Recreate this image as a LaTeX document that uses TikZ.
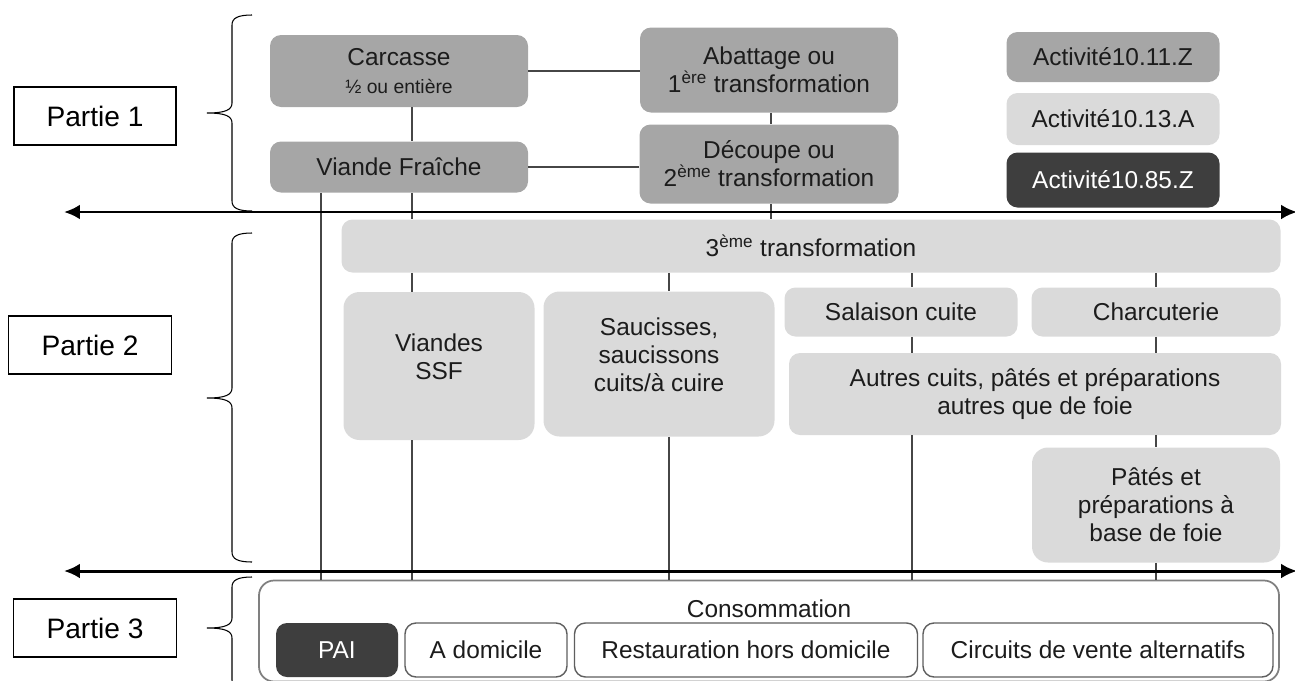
\documentclass[tikz,border=0pt]{standalone}
\usepackage{fontspec}
\setmainfont{Liberation Sans}
\usetikzlibrary{arrows.meta}

\begin{document}
\begin{tikzpicture}[x=0.02cm,y=-0.02cm]
\newcommand{\pxl}{0.02cm}
\newcommand{\boxfont}{\fontsize{13.9}{16}\selectfont}
\newcommand{\partfont}{\fontsize{16}{19}\selectfont}
\newcommand{\halffont}{\fontsize{11}{13}\selectfont}
\newcommand{\partbrace}[3]{\draw[bracket] (252,#1) .. controls (238,#1) and (232,#1+3) .. (232,#1+10) -- (232,#2-10) .. controls (232,#2-3) and (225,#2) .. (207,#2) .. controls (225,#2) and (232,#2+3) .. (232,#2+10) -- (232,#3-10) .. controls (232,#3-3) and (238,#3) .. (252,#3);}
\definecolor{fillmid}{RGB}{166,166,166}
\definecolor{filllight}{RGB}{218,218,218}
\definecolor{filldark}{RGB}{62,62,62}
\definecolor{textgray}{RGB}{28,28,28}
\definecolor{linegray}{RGB}{70,70,70}
\definecolor{bordergray}{RGB}{95,95,95}
\tikzset{dims/.style 2 args={minimum width=#1*\pxl,minimum height=#2*\pxl}}
\tikzstyle{block}=[rounded corners=0.22cm,inner sep=0pt,align=center,text=textgray,font=\boxfont]
\tikzstyle{midblock}=[block,fill=fillmid]
\tikzstyle{lightblock}=[block,fill=filllight]
\tikzstyle{darkblock}=[block,fill=filldark,text=white]
\tikzstyle{tall}=[rounded corners=0.32cm]
\tikzstyle{outlet}=[block,draw=bordergray,line width=0.8pt,fill=white]
\tikzstyle{part}=[draw,line width=0.6pt,inner sep=0pt,font=\partfont]
\tikzstyle{link}=[draw=linegray,line width=0.7pt]
\tikzstyle{axis}=[line width=1.7pt,{Latex[length=0.32cm,width=0.3cm]}-{Latex[length=0.32cm,width=0.3cm]}]
\tikzstyle{bracket}=[line width=0.6pt]
\clip (0,0) rectangle (1295,680);
% parties
\node[part,dims={162}{58}] (partone) at (95,116) {Partie 1};
\node[part,dims={163}{58}] (parttwo) at (90,345) {Partie 2};
\node[part,dims={163}{58}] (partthree) at (95,628) {Partie 3};
\partbrace{15}{113}{211}
\partbrace{233}{398}{562}
\partbrace{577}{628}{690}
% partie 1
\node[midblock,dims={258}{72}] (carcasse) at (399,71) {Carcasse\\{\halffont ½ ou entière}};
\node[midblock,dims={258}{85}] (abattage) at (769,70) {Abattage ou\\1\textsuperscript{ère} transformation};
\node[midblock,dims={258}{51}] (viande) at (399,167) {Viande Fraîche};
\node[midblock,dims={259}{79}] (decoupe) at (769,164) {Découpe ou\\2\textsuperscript{ème} transformation};
\node[midblock,dims={213}{50}] (actone) at (1113,57) {Activité10.11.Z};
\node[lightblock,dims={213}{52}] (acttwo) at (1113,119) {Activité10.13.A};
\node[darkblock,dims={213}{55}] (actthree) at (1113,180) {Activité10.85.Z};
% partie 2
\node[lightblock,dims={939}{53}] (third) at (811,246) {3\textsuperscript{ème} transformation};
\node[lightblock,tall,dims={191}{148}] (ssf) at (439,366) {Viandes\\SSF\\[-5pt]\mbox{}};
\node[lightblock,tall,dims={231}{145}] (saucisses) at (659,364) {Saucisses,\\saucissons\\cuits/à cuire\\[-5pt]\mbox{}};
\node[lightblock,dims={233}{49}] (salaison) at (901,312) {Salaison cuite};
\node[lightblock,dims={249}{49}] (charcuterie) at (1156,312) {Charcuterie};
\node[lightblock,dims={492}{82}] (autres) at (1035,394) {Autres cuits, pâtés et préparations\\autres que de foie};
\node[lightblock,tall,dims={248}{115}] (pates) at (1156,505) {Pâtés et\\préparations à\\base de foie};
% partie 3
\node[outlet,rounded corners=0.3cm,draw=gray,line width=1pt,dims={1020}{101}] (conso) at (769,631) {};
\node[font=\boxfont,text=textgray] (consotext) at (769,609) {Consommation};
\node[darkblock,dims={122}{54}] (pai) at (337,650) {PAI};
\node[outlet,dims={162}{54}] (domicile) at (486,650) {A domicile};
\node[outlet,dims={343}{54}] (restauration) at (746,650) {Restauration hors domicile};
\node[outlet,dims={350}{54}] (circuits) at (1098,650) {Circuits de vente alternatifs};
% colonnes
\coordinate (colA) at (321,0);
\coordinate (colB) at (412,0);
\coordinate (colC) at (669,0);
\coordinate (colD) at (912,0);
\coordinate (colE) at (1156,0);
\coordinate (colF) at (771,0);
\draw[link] (carcasse.east) -- (carcasse.east -| abattage.west);
\draw[link] (viande.east) -- (viande.east -| decoupe.west);
\draw[link] (carcasse.south -| colB) -- (viande.north -| colB);
\draw[link] (abattage.south -| colF) -- (decoupe.north -| colF);
\draw[link] (decoupe.south -| colF) -- (third.north -| colF);
\draw[link] (viande.south -| colB) -- (third.north -| colB);
\draw[link] (viande.south -| colA) -- (conso.north -| colA);
\draw[link] (third.south -| colB) -- (ssf.north -| colB);
\draw[link] (third.south -| colC) -- (saucisses.north -| colC);
\draw[link] (third.south -| colD) -- (salaison.north -| colD);
\draw[link] (third.south -| colE) -- (charcuterie.north -| colE);
\draw[link] (salaison.south -| colD) -- (autres.north -| colD);
\draw[link] (charcuterie.south -| colE) -- (autres.north -| colE);
\draw[link] (autres.south -| colE) -- (pates.north -| colE);
\draw[link] (ssf.south -| colB) -- (conso.north -| colB);
\draw[link] (saucisses.south -| colC) -- (conso.north -| colC);
\draw[link] (autres.south -| colD) -- (conso.north -| colD);
\draw[link] (pates.south -| colE) -- (conso.north -| colE);
% axes
\coordinate (axisoneL) at (64,212);
\coordinate (axisoneR) at (1297,212);
\coordinate (axistwoL) at (64,571);
\coordinate (axistwoR) at (1297,571);
\draw[axis] (axisoneL) -- (axisoneR);
\draw[axis] (axistwoL) -- (axistwoR);
\end{tikzpicture}
\end{document}
